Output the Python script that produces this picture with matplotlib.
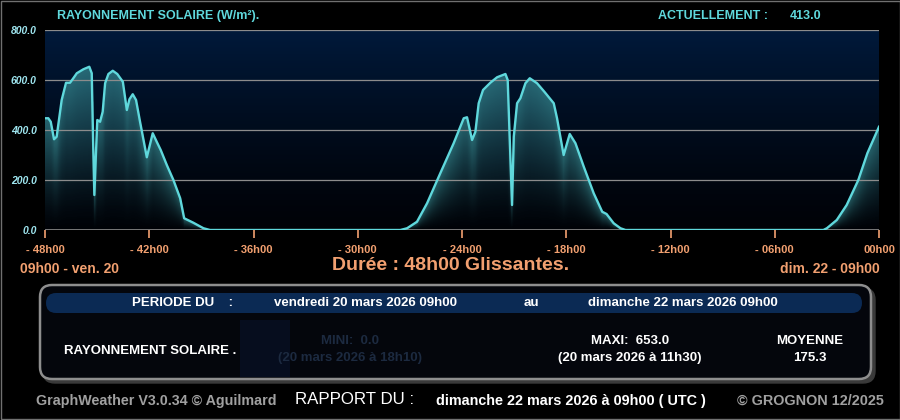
import matplotlib.pyplot as plt
import numpy as np
from matplotlib.patches import FancyBboxPatch, Rectangle

# heures depuis le debut de la periode (09h00 ven. 20) et rayonnement W/m2
hours = [0.0, 0.19, 0.33, 0.52, 0.67, 0.96, 1.21, 1.44, 1.63, 1.83, 2.21, 2.55, 2.69,
         2.78, 2.84, 2.94, 3.01, 3.17, 3.32, 3.46, 3.65, 3.90, 4.16, 4.48, 4.71, 4.86,
         5.05, 5.24, 5.47, 5.86, 6.20, 6.43, 6.66, 7.01, 7.39, 7.78, 8.01, 8.54, 9.12,
         9.50, 20.45, 20.84, 21.41, 21.99, 22.75, 23.52, 24.10, 24.29, 24.58, 24.77,
         24.96, 25.21, 25.63, 26.02, 26.50, 26.63, 26.79, 26.88, 26.98, 27.17, 27.36,
         27.65, 27.90, 28.32, 28.74, 29.28, 29.47, 29.85, 30.20, 30.53, 31.01, 31.58,
         32.07, 32.32, 32.73, 33.12, 33.41, 44.80, 45.00, 45.57, 46.14, 46.81, 47.33, 48.0]
solar = [447, 447, 433, 363, 373, 520, 589, 589, 607, 627, 643, 653, 627,
         320, 140, 320, 440, 433, 473, 587, 624, 637, 624, 593, 480, 523,
         543, 520, 433, 291, 387, 353, 320, 260, 200, 127, 47, 29, 7,
         0, 0, 7, 33, 107, 227, 347, 447, 451, 360, 393,
         507, 560, 589, 611, 624, 600, 280, 100, 373, 507, 527,
         587, 607, 587, 553, 507, 447, 300, 384, 347, 253, 147,
         73, 64, 27, 7, 0, 0, 7, 40, 100, 200, 307, 413]

x_ticks = [0, 6, 12, 18, 24, 30, 36, 42, 48]
x_labels = ['- 48h00', '- 42h00', '- 36h00', '- 30h00', '- 24h00',
            '- 18h00', '- 12h00', '- 06h00', '00h00']
y_ticks = [0, 200, 400, 600, 800]

CYAN = '#5fd8dc'
ORANGE = '#f2a070'
FONT = ['Liberation Sans', 'DejaVu Sans']

plt.rcParams['font.family'] = FONT

fig = plt.figure(figsize=(9, 4.2), dpi=100, facecolor='black')

# calque global en pixels
ov = fig.add_axes([0, 0, 1, 1])
ov.set_xlim(0, 900)
ov.set_ylim(420, 0)
ov.axis('off')
ov.add_patch(Rectangle((0.5, 0.5), 899, 418, fill=False, ec='#707070', lw=1))

# graphique principal
ax = fig.add_axes([45 / 900, 1 - 230 / 420, 834 / 900, 200 / 420])
ax.set_facecolor('black')
ax.set_xlim(0, 48)
ax.set_ylim(0, 800)

bg = np.linspace(0, 1, 200)
bg_rgb = np.zeros((200, 1, 3))
bg_rgb[:, 0, 1] = 0.01 + 0.09 * bg ** 1.3
bg_rgb[:, 0, 2] = 0.03 + 0.20 * bg ** 1.3
ax.imshow(bg_rgb, extent=(0, 48, 0, 800), origin='lower', aspect='auto', zorder=0)

# remplissage en degrade sous la courbe
gx = np.linspace(0, 48, 900)
gy = np.linspace(0, 800, 400)
GX, GY = np.meshgrid(gx, gy)
top = np.interp(GX, hours, solar)
ratio = np.where(top > 0, GY / np.maximum(top, 1), 2)
alpha = np.clip(ratio, 0, 1) ** 1.4 * 0.62
alpha[ratio > 1] = 0
fill = np.zeros((400, 900, 4))
fill[..., 0] = 0.25
fill[..., 1] = 0.62
fill[..., 2] = 0.64
fill[..., 3] = alpha
ax.imshow(fill, extent=(0, 48, 0, 800), origin='lower', aspect='auto', zorder=1,
          interpolation='bilinear')

for yv in y_ticks[1:]:
    ax.axhline(yv, color='#8c8c8c', lw=0.9, zorder=2)
ax.axhline(0, color='#8c8c8c', lw=1.2, zorder=2)

ax.plot(hours, solar, color=CYAN, lw=1.7, zorder=3, solid_joinstyle='round')

ax.set_xticks(x_ticks)
ax.set_xticklabels(x_labels)
ax.set_yticks(y_ticks)
ax.set_yticklabels(['%.1f' % v for v in y_ticks])
ax.tick_params(axis='x', colors=ORANGE, length=6, width=1.2, direction='out', pad=5,
               labelsize=8)
ax.tick_params(axis='y', length=0, pad=6, labelsize=7.5, labelcolor='#9fe6f0')
for lab in ax.get_xticklabels():
    lab.set_fontweight('bold')
for lab in ax.get_yticklabels():
    lab.set_fontweight('bold')
    lab.set_fontstyle('italic')
for s in ax.spines.values():
    s.set_visible(False)

# titres
ov.text(57, 16, 'RAYONNEMENT SOLAIRE (W/m²).', color=CYAN, fontsize=9, fontweight='bold',
        va='center', ha='left')
ov.text(658, 16, 'ACTUELLEMENT :', color=CYAN, fontsize=9, fontweight='bold',
        va='center', ha='left')
ov.text(790, 16, '413.0', color=CYAN, fontsize=9, fontweight='bold', va='center', ha='left')

ov.text(20, 269, '09h00 - ven. 20', color=ORANGE, fontsize=10, fontweight='bold',
        va='center', ha='left')
ov.text(880, 269, 'dim. 22 - 09h00', color=ORANGE, fontsize=10, fontweight='bold',
        va='center', ha='right')
ov.text(451, 265, 'Durée : 48h00 Glissantes.', color=ORANGE, fontsize=14, fontweight='bold',
        va='center', ha='center')

# cadre du bas
ov.add_patch(FancyBboxPatch((43, 288), 832, 95, boxstyle='round,pad=0,rounding_size=12',
                            fc='#3a3a3a', ec='#3a3a3a', lw=1))
ov.add_patch(FancyBboxPatch((40, 285), 831, 94, boxstyle='round,pad=0,rounding_size=12',
                            fc='#04060c', ec='#8e8e8e', lw=1.8))
ov.add_patch(FancyBboxPatch((46, 293), 816, 20, boxstyle='round,pad=0,rounding_size=10',
                            fc='#0b2a54', ec='none'))
ov.add_patch(Rectangle((240, 320), 50, 57, fc='#060d1e', ec='none'))

ov.text(182, 303.5, 'PERIODE DU    :', color='white', fontsize=9.5, fontweight='bold',
        va='center', ha='center')
ov.text(366, 303.5, 'vendredi 20 mars 2026 09h00', color='white', fontsize=9.5,
        fontweight='bold', va='center', ha='center')
ov.text(531, 303.5, 'au', color='white', fontsize=9.5, fontweight='bold',
        va='center', ha='center')
ov.text(683, 303.5, 'dimanche 22 mars 2026 09h00', color='white', fontsize=9.5,
        fontweight='bold', va='center', ha='center')

ov.text(150, 351, 'RAYONNEMENT SOLAIRE .', color='white', fontsize=9.5, fontweight='bold',
        va='center', ha='center')
ov.text(350, 341, 'MINI:  0.0', color='#1c2a40', fontsize=9.5, fontweight='bold',
        va='center', ha='center')
ov.text(350, 358, '(20 mars 2026 à 18h10)', color='#1c2a40', fontsize=9.5,
        fontweight='bold', va='center', ha='center')
ov.text(630, 341, 'MAXI:  653.0', color='white', fontsize=9.5, fontweight='bold',
        va='center', ha='center')
ov.text(630, 358, '(20 mars 2026 à 11h30)', color='white', fontsize=9.5,
        fontweight='bold', va='center', ha='center')
ov.text(810, 341, 'MOYENNE', color='white', fontsize=9.5, fontweight='bold',
        va='center', ha='center')
ov.text(810, 358, '175.3', color='white', fontsize=9.5, fontweight='bold',
        va='center', ha='center')

# pied de page
ov.text(36, 401, 'GraphWeather V3.0.34 © Aguilmard', color='#a0a0a0', fontsize=10.3,
        fontweight='bold', va='center', ha='left')
ov.text(295, 400, 'RAPPORT DU :', color='white', fontsize=12.2,
        va='center', ha='left')
ov.text(436, 401, 'dimanche 22 mars 2026 à 09h00 ( UTC )', color='white', fontsize=10.4,
        fontweight='bold', va='center', ha='left')
ov.text(884, 401, '© GROGNON 12/2025', color='#a0a0a0', fontsize=10.4, fontweight='bold',
        va='center', ha='right')

fig.savefig('out.png', dpi=100, facecolor='black')
